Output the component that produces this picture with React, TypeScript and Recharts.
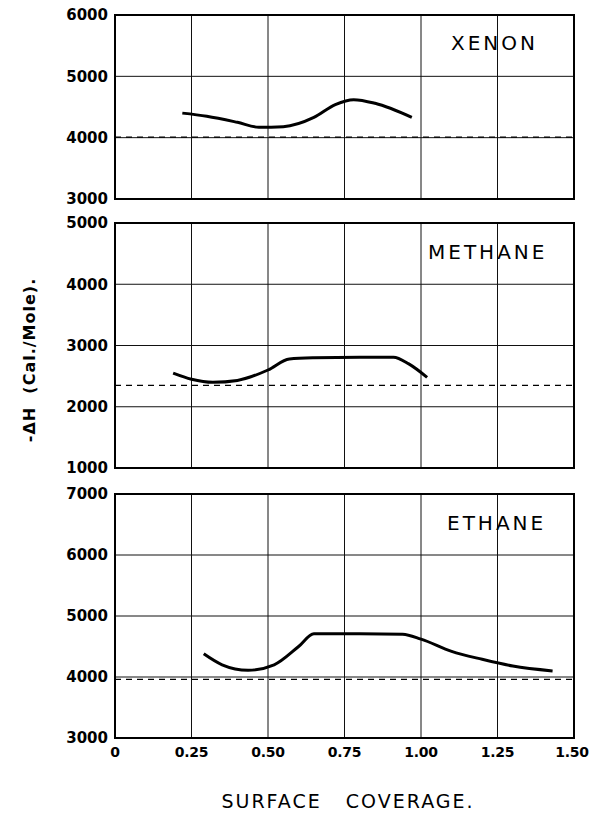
import { LineChart, Line, XAxis, YAxis, CartesianGrid, ReferenceLine, ReferenceArea } from "recharts"

// surface coverage ticks, shared by all three panels
const coverageTicks = [0, 0.25, 0.5, 0.75, 1.0, 1.25, 1.5]

// Xenon
const xenonX = [0.22, 0.3, 0.4, 0.47, 0.55, 0.65, 0.72, 0.78, 0.85, 0.97]
const xenonH = [4400, 4350, 4250, 4170, 4180, 4330, 4540, 4620, 4560, 4330]
const xenonRef = 4010
const xenonTicks = [3000, 4000, 5000, 6000]

// Methane
const methaneX = [0.19, 0.25, 0.32, 0.4, 0.5, 0.57, 0.65, 0.8, 0.91, 0.96, 1.02]
const methaneH = [2550, 2450, 2400, 2430, 2600, 2780, 2800, 2810, 2810, 2700, 2480]
const methaneRef = 2350
const methaneTicks = [1000, 2000, 3000, 4000, 5000]

// Ethane
const ethaneX = [0.29, 0.35, 0.435, 0.52, 0.6, 0.65, 0.8, 0.94, 1.0, 1.1, 1.2, 1.3, 1.43]
const ethaneH = [4380, 4200, 4110, 4200, 4500, 4710, 4710, 4700, 4620, 4420, 4290, 4180, 4100]
const ethaneRef = 3960
const ethaneTicks = [3000, 4000, 5000, 6000, 7000]

const toRows = (xs: number[], ys: number[]) => xs.map((x, i) => ({ x, h: ys[i] }))

const tickStyle = { fontFamily: "DejaVu Sans", fontWeight: 700, fontSize: 15, fill: "#000" }
const fmtX = (v: number) => (v === 0 ? "0" : v.toFixed(2))

// x tick: the last label leans left a touch so it stays on the page
const XTick = ({ x, y, payload, index }) => {
  const last = index === coverageTicks.length - 1
  return (
    <text
      x={x}
      y={y}
      dy="0.71em"
      dx={last ? -2 : 0}
      textAnchor="middle"
      fontFamily="DejaVu Sans"
      fontWeight={700}
      fontSize={14}
      letterSpacing={-0.3}
      fill="#000"
    >
      {fmtX(payload.value)}
    </text>
  )
}

function Panel({ top, height, margin, rows, refY, yTicks, name, showX }) {
  const lo = yTicks[0]
  const hi = yTicks[yTicks.length - 1]
  return (
    <div style={{ position: "absolute", left: 0, top }}>
      <LineChart width={591} height={height} data={rows} margin={margin}>
        <CartesianGrid stroke="#111" strokeWidth={1} />
        <XAxis
          dataKey="x"
          type="number"
          domain={[0, 1.5]}
          ticks={coverageTicks}
          hide={!showX}
          height={showX ? 30 : 0}
          axisLine={false}
          tickLine={false}
          tickSize={0}
          tickMargin={9}
          tick={<XTick />}
          interval={0}
        />
        <YAxis
          type="number"
          domain={[lo, hi]}
          ticks={yTicks}
          width={115}
          axisLine={false}
          tickLine={false}
          tickSize={0}
          tickMargin={7}
          tick={tickStyle}
          interval={0}
        />
        <ReferenceLine y={refY} stroke="#000" strokeWidth={1.3} strokeDasharray="6 5" />
        <ReferenceArea x1={0} x2={1.5} y1={lo} y2={hi} fill="none" stroke="#000" strokeWidth={2} />
        <Line
          type="monotone"
          dataKey="h"
          stroke="#000"
          strokeWidth={3}
          dot={false}
          isAnimationActive={false}
        />
      </LineChart>
      <div
        style={{
          position: "absolute",
          top: name.top,
          left: name.left,
          fontFamily: "DejaVu Sans",
          fontSize: 20,
          letterSpacing: 3,
          lineHeight: "20px",
        }}
      >
        {name.text}
      </div>
    </div>
  )
}

export default function App() {
  return (
    <div style={{ position: "absolute", left: 0, top: 0, width: 591, height: 815, background: "#fff" }}>
      <Panel
        top={0}
        height={215}
        margin={{ top: 15, right: 17, bottom: 16, left: 0 }}
        rows={toRows(xenonX, xenonH)}
        refY={xenonRef}
        yTicks={xenonTicks}
        name={{ text: "XENON", top: 33, left: 451 }}
        showX={false}
      />
      <Panel
        top={200}
        height={290}
        margin={{ top: 23, right: 17, bottom: 22, left: 0 }}
        rows={toRows(methaneX, methaneH)}
        refY={methaneRef}
        yTicks={methaneTicks}
        name={{ text: "METHANE", top: 42, left: 428 }}
        showX={false}
      />
      <Panel
        top={470}
        height={300}
        margin={{ top: 24, right: 17, bottom: 2, left: 0 }}
        rows={toRows(ethaneX, ethaneH)}
        refY={ethaneRef}
        yTicks={ethaneTicks}
        name={{ text: "ETHANE", top: 43, left: 447 }}
        showX={true}
      />
      <div
        style={{
          position: "absolute",
          left: 30,
          top: 360,
          transform: "translate(-50%, -50%) rotate(-90deg)",
          whiteSpace: "pre",
          fontFamily: "DejaVu Sans",
          fontWeight: 700,
          fontSize: 16,
          letterSpacing: 1,
          lineHeight: "16px",
        }}
      >
        {"-ΔH  (Cal./Mole)."}
      </div>
      <div
        style={{
          position: "absolute",
          left: 348,
          top: 791,
          transform: "translateX(-50%)",
          whiteSpace: "pre",
          fontFamily: "DejaVu Sans",
          fontSize: 19,
          letterSpacing: 2,
          lineHeight: "20px",
        }}
      >
        {"SURFACE   COVERAGE."}
      </div>
    </div>
  )
}
